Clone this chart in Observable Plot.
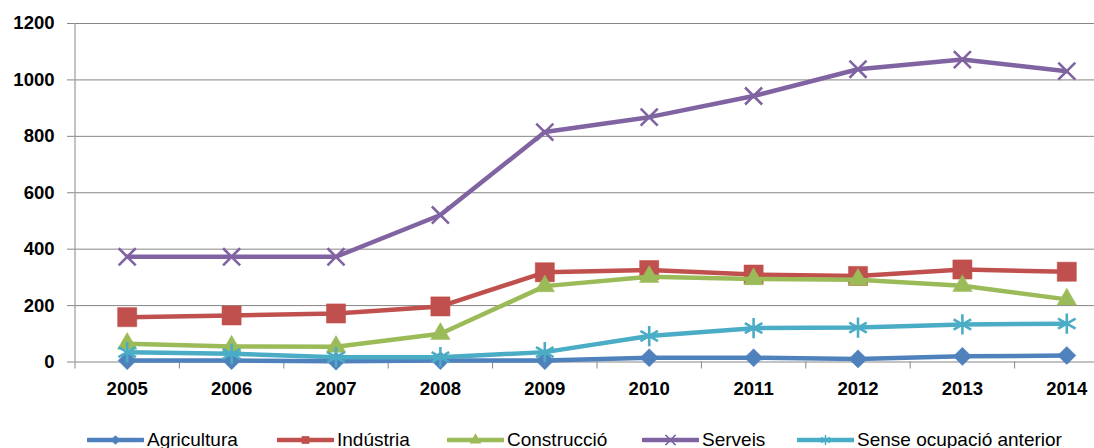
<!DOCTYPE html>
<html>
<head>
<meta charset="utf-8">
<script src="https://cdn.jsdelivr.net/npm/d3@7"></script>
<script src="https://cdn.jsdelivr.net/npm/@observablehq/plot@0.6"></script>
<style>
  html, body { margin: 0; padding: 0; overflow: hidden; background: #fff; width: 1094px; height: 448px; }
  #chart { position: absolute; left: 0; top: 0; }
  .legend { position: absolute; top: 0; left: 0; width: 1094px; height: 448px; pointer-events: none; }
  .item { position: absolute; top: 428px; height: 24px; display: flex; align-items: center; font-family: "Liberation Sans", sans-serif; font-size: 19px; color: #000; white-space: nowrap; }
  .item svg { display: block; margin-right: 3px; }
</style>
</head>
<body>
<div id="chart"></div>
<div class="legend" id="legend"></div>
<script>
const years = [2005, 2006, 2007, 2008, 2009, 2010, 2011, 2012, 2013, 2014];
const seriesNames = ["Agricultura", "Indústria", "Construcció", "Serveis", "Sense ocupació anterior"];
const agricultura = [5, 5, 3, 5, 5, 15, 15, 11, 20, 23];
const industria = [159, 165, 172, 197, 318, 326, 310, 305, 328, 320];
const construccio = [65, 55, 54, 100, 269, 302, 294, 292, 270, 222];
const serveis = [373, 373, 373, 521, 815, 868, 943, 1038, 1072, 1031];
const senseOcupacio = [35, 29, 17, 17, 35, 92, 120, 122, 133, 136];
const yTicks = [0, 200, 400, 600, 800, 1000, 1200];

const colors = ["#4F81BD", "#C0504D", "#9BBB59", "#8064A2", "#4BACC6"];
const symbols = ["diamond2", "square", "triangle", "times", "asterisk"];
const radii = [8.2, 10.8, 7.2, 7.8, 9.6];
const filled = [true, true, true, false, false];
const valueArrays = [agricultura, industria, construccio, serveis, senseOcupacio];

const boundaries = d3.range(years.length + 1).map(i => years[0] - 0.5 + i);
const labelFont = {fill: "#000", fontSize: 18.5, fontWeight: "bold", fontFamily: "Liberation Sans, sans-serif"};

const marks = [
  Plot.ruleY(yTicks, {y: d => d, x1: years[0] - 0.5, x2: years[years.length - 1] + 0.5, stroke: "#868686", strokeWidth: 1}),
  Plot.ruleX([years[0] - 0.5], {y1: 0, y2: yTicks[yTicks.length - 1], stroke: "#868686", strokeWidth: 1}),
  Plot.axisY({ticks: yTicks, tickSize: 7, tickPadding: 13, label: null, stroke: "#868686", tickFormat: d => String(d), ...labelFont}),
  Plot.axisX({ticks: boundaries, tickSize: 7, tickFormat: () => "", label: null, stroke: "#868686"}),
  Plot.text(years, {x: d => d, y: () => 0, text: d => String(d), dy: 27.5, lineAnchor: "middle", textAnchor: "middle", ...labelFont})
];

seriesNames.forEach((name, i) => {
  const data = years.map((yr, j) => ({year: yr, value: valueArrays[i][j], series: name}));
  marks.push(Plot.line(data, {x: "year", y: "value", stroke: colors[i], strokeWidth: 4.5, strokeLinejoin: "round", strokeLinecap: "round"}));
  marks.push(Plot.dot(data, {
    x: "year", y: "value", symbol: () => symbols[i], r: radii[i],
    fill: filled[i] ? colors[i] : "none",
    stroke: colors[i], strokeWidth: filled[i] ? 0.5 : 2.6
  }));
});

const plot = Plot.plot({
  width: 1094,
  height: 420,
  marginLeft: 74,
  marginRight: 0,
  marginTop: 23,
  marginBottom: 58.5,
  x: {type: "linear", domain: [years[0] - 0.5, years[years.length - 1] + 0.5], range: [74.5, 1118.5]},
  y: {domain: [0, 1200], range: [361.5, 23]},
  symbol: {type: "identity"},
  style: {background: "#fff", overflow: "hidden"},
  marks
});
document.getElementById("chart").appendChild(plot);

// Legend
const legendLeft = [87, 277, 447, 642, 797];
const legend = document.getElementById("legend");
seriesNames.forEach((name, i) => {
  const item = document.createElement("div");
  item.className = "item";
  item.style.left = legendLeft[i] + "px";
  const svg = d3.create("svg").attr("width", 57).attr("height", 14);
  svg.append("line").attr("x1", 1).attr("x2", 56).attr("y1", 7).attr("y2", 7)
    .attr("stroke", colors[i]).attr("stroke-width", 4.5).attr("stroke-linecap", "round");
  const symType = {diamond2: d3.symbolDiamond2, square: d3.symbolSquare, triangle: d3.symbolTriangle, times: d3.symbolTimes, asterisk: d3.symbolAsterisk}[symbols[i]];
  svg.append("path").attr("transform", "translate(28.5,7)")
    .attr("d", d3.symbol(symType, filled[i] ? 60 : 70)())
    .attr("fill", filled[i] ? colors[i] : "none")
    .attr("stroke", filled[i] ? "none" : colors[i]).attr("stroke-width", 1.5);
  item.appendChild(svg.node());
  const span = document.createElement("span");
  span.textContent = name;
  item.appendChild(span);
  legend.appendChild(item);
});
</script>
</body>
</html>
